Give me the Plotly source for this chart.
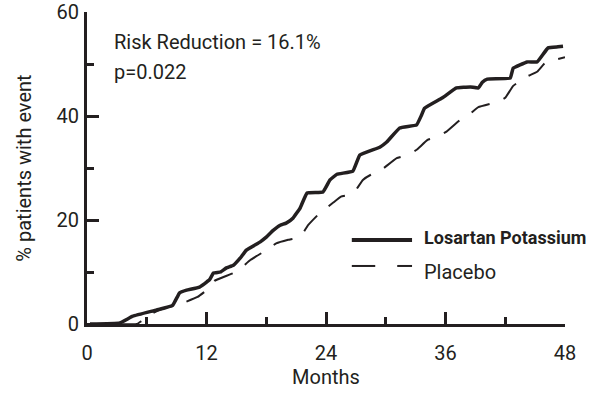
import plotly.graph_objects as go

# Data
losartan_months = [0.3, 3.3, 4.6, 7.0, 8.6, 9.3, 10.0, 11.3, 12.3, 12.7, 13.4, 14.0, 14.7, 15.4, 16.0,
                   17.4, 18.0, 18.7, 19.4, 20.0, 20.7, 21.4, 22.1, 23.7, 24.4, 25.1, 26.7, 27.4, 29.4,
                   30.1, 31.4, 33.1, 33.6, 33.9, 35.7, 37.1, 38.5, 39.3, 39.7, 40.2, 42.5, 42.8, 44.2,
                   45.2, 46.3, 47.3, 47.8]
losartan_pct = [0.0, 0.2, 1.5, 2.7, 3.6, 6.0, 6.5, 7.1, 8.5, 9.8, 10.0, 10.8, 11.3, 12.7, 14.2,
                15.8, 16.7, 18.0, 19.0, 19.4, 20.4, 22.3, 25.2, 25.4, 27.7, 28.8, 29.4, 32.5, 34.0,
                35.0, 37.7, 38.3, 40.2, 41.5, 43.5, 45.4, 45.6, 45.4, 46.5, 47.1, 47.3, 49.2, 50.4,
                50.4, 53.1, 53.3, 53.4]

placebo_months = [0, 5.0, 5.5, 6.6, 8.0, 9.3, 11.1, 12.0, 12.8, 14.7, 15.5, 16.4, 18.0, 19.0, 20.2,
                  21.4, 22.2, 23.2, 24.7, 25.5, 26.7, 27.7, 28.5, 29.4, 31.1, 32.2, 33.1, 34.2, 35.2,
                  36.1, 37.8, 38.5, 39.3, 41.2, 42.0, 42.8, 44.3, 45.2, 46.0, 48.0]
placebo_pct = [0, 0, 0.6, 2.1, 3.2, 3.8, 5.2, 6.5, 8.3, 9.8, 10.8, 12.3, 14.2, 15.5, 16.2,
               16.7, 19.0, 21.0, 23.3, 24.5, 25.0, 27.7, 28.7, 29.4, 31.9, 32.5, 33.5, 35.4, 36.0,
               37.0, 39.8, 40.5, 41.7, 42.7, 43.5, 45.8, 47.7, 48.5, 50.2, 51.3]

x_ticks = [0, 12, 24, 36, 48]
y_ticks = [0, 20, 40, 60]

FONT = "Roboto, DejaVu Sans, sans-serif"
INK = "#231f20"


def fnt(size=20, weight="normal"):
    return dict(family=FONT, size=size, color=INK, weight=weight)


fig = go.Figure()
fig.add_trace(go.Scatter(x=losartan_months, y=losartan_pct, mode="lines",
                         line=dict(color=INK, width=3.5, shape="spline", smoothing=0.3),
                         name="Losartan Potassium", showlegend=False, cliponaxis=False))
fig.add_trace(go.Scatter(x=placebo_months, y=placebo_pct, mode="lines",
                         line=dict(color=INK, width=2, dash="20px,15px", shape="spline", smoothing=0.3),
                         name="Placebo", showlegend=False, cliponaxis=False))

axis_common = dict(showline=True, linecolor=INK, linewidth=3, ticks="inside", tickwidth=3,
                   tickcolor=INK, ticklen=12, showgrid=False, zeroline=False, automargin=False,
                   tickfont=fnt(20), ticklabeloverflow="allow")

fig.update_xaxes(range=[0, 48], tickvals=x_ticks, ticktext=[str(v) for v in x_ticks],
                 minor=dict(tickvals=[6, 18, 30, 42], ticks="inside", ticklen=7, tickwidth=3, tickcolor=INK),
                 title=dict(text="Months", font=fnt(20), standoff=6),
                 ticklabelstandoff=9, **axis_common)
fig.update_yaxes(range=[0, 60], tickvals=y_ticks, ticktext=[str(v) for v in y_ticks],
                 minor=dict(tickvals=[10, 30, 50], ticks="inside", ticklen=7, tickwidth=3, tickcolor=INK),
                 title=dict(text="% patients with event", font=fnt(20), standoff=20),
                 ticklabelstandoff=1, **axis_common)

# Legend drawn manually
fig.add_shape(type="line", xref="paper", yref="paper", x0=0.554, x1=0.680, y0=0.269, y1=0.269,
              line=dict(color=INK, width=4))
fig.add_shape(type="line", xref="paper", yref="paper", x0=0.554, x1=0.603, y0=0.186, y1=0.186,
              line=dict(color=INK, width=2))
fig.add_shape(type="line", xref="paper", yref="paper", x0=0.649, x1=0.680, y0=0.186, y1=0.186,
              line=dict(color=INK, width=2))
fig.add_annotation(text="<b>Losartan Potassium</b>", xref="paper", yref="paper", x=0.701, y=0.276,
                   xanchor="left", yanchor="middle", showarrow=False, font=fnt(18))
fig.add_annotation(text="Placebo", xref="paper", yref="paper", x=0.701, y=0.167,
                   xanchor="left", yanchor="middle", showarrow=False, font=fnt(20))

fig.add_annotation(text="Risk Reduction = 16.1%", xref="paper", yref="paper", x=0.052, y=0.904,
                   xanchor="left", yanchor="middle", showarrow=False, font=fnt(20))
fig.add_annotation(text="p=0.022", xref="paper", yref="paper", x=0.052, y=0.808,
                   xanchor="left", yanchor="middle", showarrow=False, font=fnt(20))

fig.update_layout(width=598, height=393, margin=dict(l=87, r=33, t=12, b=69),
                  plot_bgcolor="white", paper_bgcolor="white", showlegend=False)

# Remove the browser's default 8px page margin so the figure sits at the window's corner
fig.write_html("out.html", post_script="document.body.style.margin='0';",
               config={"displayModeBar": False})
